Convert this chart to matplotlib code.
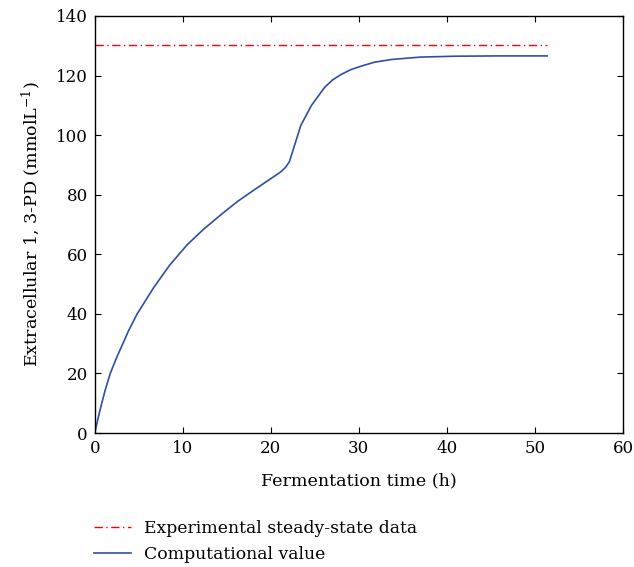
import numpy as np
import matplotlib
matplotlib.use('Agg')
import matplotlib.pyplot as plt

plt.rcParams['font.family'] = ['DejaVu Serif']
plt.rcParams['mathtext.fontset'] = 'dejavuserif'

# computational 1,3-PD curve
time_h = [0, 0.6, 1.18, 1.75, 2.5, 3.84, 4.8, 6.69, 8.5, 10.5, 12.4, 14.3, 16.2,
          18.1, 19.7, 21.15, 21.7, 22.1, 22.7, 23.4, 24.6, 26.1, 27.0, 28.0, 29.1, 30.3,
          31.8, 33.7, 37.0, 41.0, 46.0, 51.4]
pd_calc = [0, 7.7, 14.3, 19.9, 25.4, 34.3, 39.9, 48.8, 56.3, 63.2, 68.5, 73.2, 77.7,
           81.6, 84.8, 87.7, 89.3, 91.0, 96.6, 103.2, 109.9, 116.0, 118.5, 120.4, 122.0, 123.2,
           124.5, 125.4, 126.2, 126.5, 126.6, 126.6]

# experimental steady-state value
exp_time = [0, 51.4]
exp_value = 130.2

fig = plt.figure(figsize=(6.34, 5.67), dpi=100)
ax = fig.add_axes([0.1494, 0.2363, 0.8332, 0.7355])

ax.plot(exp_time, [exp_value, exp_value], color='#ff0000', lw=1.0,
        dashes=(6, 2.5, 1, 2.5), label='Experimental steady-state data')
ax.plot(time_h, pd_calc, color='#2f4fa3', lw=1.2, label='Computational value')

ax.set_xlim(0, 60)
ax.set_ylim(0, 140)
ax.set_xticks(range(0, 61, 10))
ax.set_yticks(range(0, 141, 20))
ax.tick_params(direction='in', top=True, right=True, labelsize=12, length=4, width=0.8, pad=5)
for s in ax.spines.values():
    s.set_linewidth(1.0)

ax.set_xlabel('Fermentation time (h)', fontsize=12.6, labelpad=11)
ax.set_ylabel('Extracellular 1, 3-PD (mmolL$^{-1}$)', fontsize=12.6, labelpad=9)

fig.legend(loc='upper left', bbox_to_anchor=(0.137, 0.095), frameon=False,
           fontsize=12.4, handlelength=2.15, handletextpad=0.75, labelspacing=0.55,
           borderaxespad=0)

fig.savefig('out.png', dpi=100)
